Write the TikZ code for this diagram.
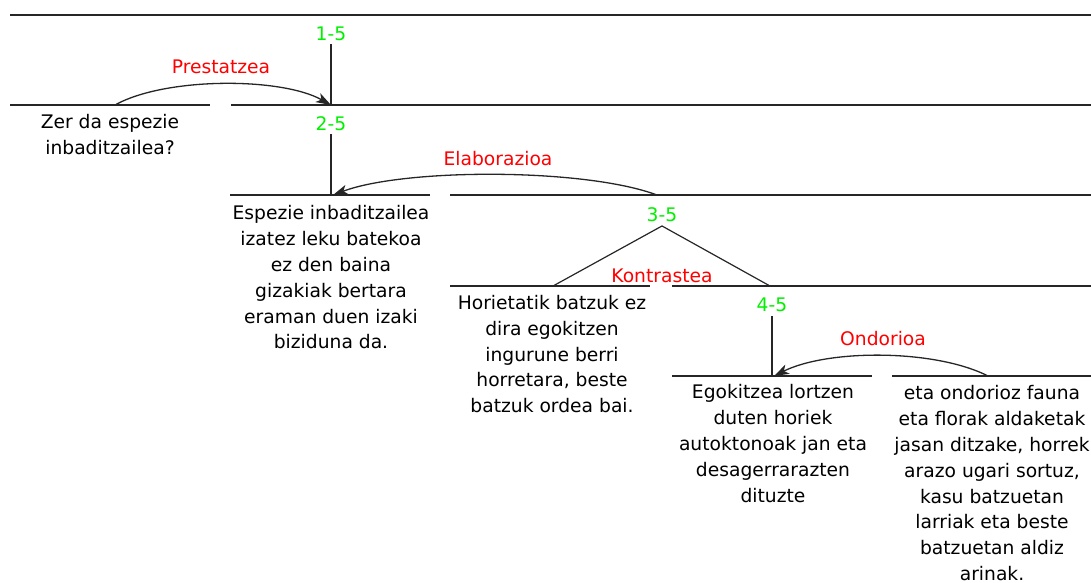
\documentclass[tikz,border=0pt]{standalone}
\usepackage{fontspec}
\setmainfont{DejaVu Sans}
\usetikzlibrary{arrows.meta}
\definecolor{lblgreen}{RGB}{0,240,0}
\definecolor{relred}{RGB}{255,0,0}
\begin{document}
\begin{tikzpicture}[x=1pt,y=-1pt,
  span/.style={line width=1.6pt,black!85},
  stem/.style={line width=1.6pt,black!85},
  relarc/.style={line width=1.3pt,black!85,-{Stealth[length=15pt,width=10pt,inset=4pt]}},
  triline/.style={line width=1.2pt,black!85},
  lbl/.style={text=lblgreen,font=\fontsize{18.7}{22}\selectfont,inner sep=4pt,anchor=base},
  rel/.style={text=relred,font=\fontsize{18.7}{22}\selectfont,inner sep=0pt,anchor=base},
  txt/.style={align=center,font=\fontsize{18.7}{25.8}\selectfont,inner sep=0pt,anchor=north,text=black}]
\useasboundingbox (0,0) rectangle (1091,582);
% horizontal spans
\draw[span] (10,15) coordinate (t0) -- (1091,15) coordinate (t1);
\draw[span] (10,105) coordinate (a0) -- (210,105) coordinate (a1);
\draw[span] (231,105) coordinate (b0) -- (1091,105) coordinate (b1);
\draw[span] (230,195) coordinate (c0) -- (430,195) coordinate (c1);
\draw[span] (450,195) coordinate (d0) -- (1091,195) coordinate (d1);
\draw[span] (450,286) coordinate (e0) -- (650,286) coordinate (e1);
\draw[span] (672,286) coordinate (f0) -- (1091,286) coordinate (f1);
\draw[span] (672,376) coordinate (g0) -- (872,376) coordinate (g1);
\draw[span] (892,376) coordinate (h0) -- (1091,376) coordinate (h1);
% connection points
\coordinate (m1) at (331,105);
\coordinate (m2) at (331,195);
\coordinate (m4) at (772,376);
\coordinate (s1) at (115,105);
\coordinate (s2) at (657,195);
\coordinate (s4) at (988,376);
\coordinate (k1) at (553,286);
\coordinate (k2) at (770,286);
% span labels
\node[lbl] (l15) at (331,40) {1-5};
\node[lbl] (l25) at (331,130) {2-5};
\node[lbl] (l35) at (662,221.5) {3-5};
\node[lbl] (l45) at (772,311.5) {4-5};
% stems
\draw[stem] (l15.south) -- (m1);
\draw[stem] (l25.south) -- (m2);
\draw[stem] (l45.south) -- (m4);
\draw[triline] (k1) -- (l35.south) -- (k2);
% relation labels
\node[rel] (rp) at (221,73.3) {Prestatzea};
\node[rel] (re) at (498,165) {Elaborazioa};
\node[rel] (rk) at (662,282.3) {Kontrastea};
\node[rel] (ro) at (883,345) {Ondorioa};
% relation arcs
\draw[relarc] (s1) .. controls (165,77) and (281,77) .. (m1);
\draw[relarc] (s2) .. controls (585,168) and (405,168) .. ([xshift=2pt]m2);
\draw[relarc] (s4) .. controls (935,349) and (828,349) .. ([xshift=2pt]m4);
% texts
\node[txt] (n1) at (110,114.5) {Zer da espezie\\inbaditzailea?};
\node[txt] (n2) at (331,205.5) {Espezie inbaditzailea\\izatez leku batekoa\\ez den baina\\gizakiak bertara\\eraman duen izaki\\biziduna da.};
\node[txt] (n3) at (552,295) {Horietatik batzuk ez\\dira egokitzen\\ingurune berri\\horretara, beste\\batzuk ordea bai.};
\node[txt] (n4) at (773,384.5) {Egokitzea lortzen\\duten horiek\\autoktonoak jan eta\\desagerrarazten\\dituzte};
\node[txt] (n5) at (992,385.5) {eta ondorioz fauna\\eta florak aldaketak\\jasan ditzake, horrek\\arazo ugari sortuz,\\kasu batzuetan\\larriak eta beste\\batzuetan aldiz\\arinak.};
\end{tikzpicture}
\end{document}
